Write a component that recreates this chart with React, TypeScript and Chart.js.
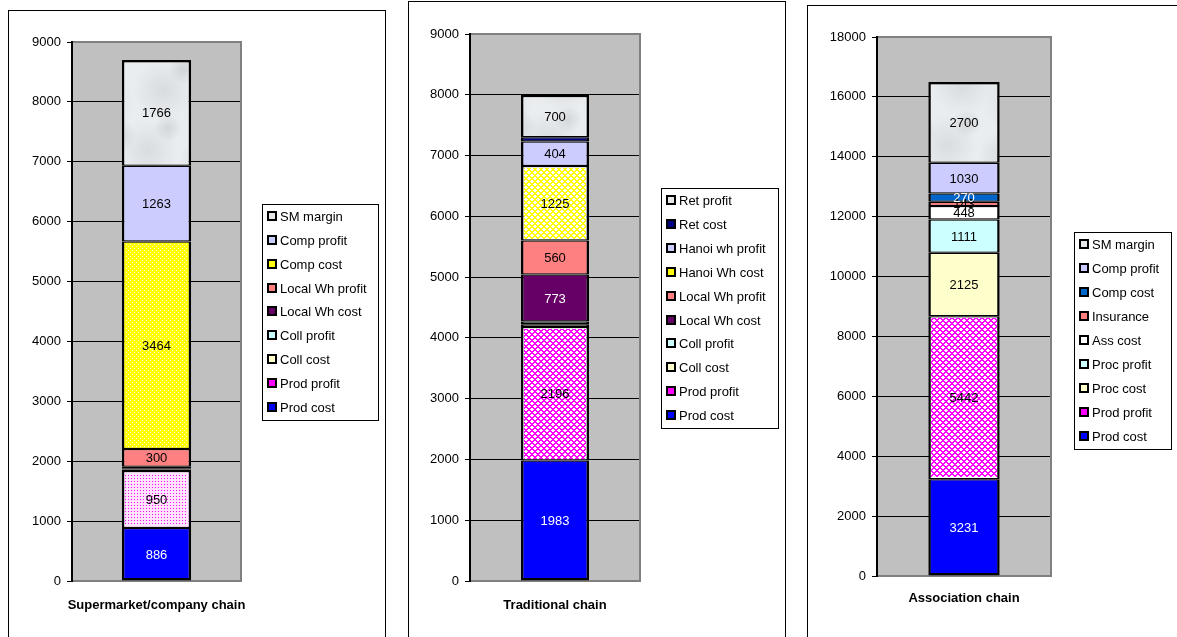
import React, { useEffect, useRef } from 'react';
import { Chart, registerables } from 'chart.js';

Chart.register(...registerables);

const FONT = '"Liberation Sans", Arial, Helvetica, sans-serif';

// ---------- Data: Supermarket/company chain ----------
const superCategory = ['Supermarket/company chain'];
const superSeries = ['Prod cost', 'Prod profit', 'Coll cost', 'Coll profit', 'Local Wh cost', 'Local Wh profit', 'Comp cost', 'Comp profit', 'SM margin'];
const superValues = [886, 950, 25, 15, 30, 300, 3464, 1263, 1766];
const superAxisMax = 9000;
const superAxisStep = 1000;

// ---------- Data: Traditional chain ----------
const tradCategory = ['Traditional chain'];
const tradSeries = ['Prod cost', 'Prod profit', 'Coll cost', 'Coll profit', 'Local Wh cost', 'Local Wh profit', 'Hanoi Wh cost', 'Hanoi wh profit', 'Ret cost', 'Ret profit'];
const tradValues = [1983, 2196, 45, 46, 773, 560, 1225, 404, 68, 700];
const tradAxisMax = 9000;
const tradAxisStep = 1000;

// ---------- Data: Association chain ----------
const assocCategory = ['Association chain'];
const assocSeries = ['Prod cost', 'Prod profit', 'Proc cost', 'Proc profit', 'Ass cost', 'Insurance', 'Comp cost', 'Comp profit', 'SM margin'];
const assocValues = [3231, 5442, 2125, 1111, 448, 143, 270, 1030, 2700];
const assocAxisMax = 18000;
const assocAxisStep = 2000;

// ---------- Styles ----------
const SOLID: Record<string, string> = {
  blue: '#0000FF',
  collCost: '#FFFFCC',
  collProfit: '#CCFFFF',
  purple: '#660066',
  salmon: '#FF8080',
  lavender: '#CCCCFF',
  navy: '#000080',
  white: '#FFFFFF',
  compBlue: '#0066CC',
};
const mod = (a: number, m: number) => ((a % m) + m) % m;
// textured fills: base colour, ink colour, pixel mask
const TEXTURE: Record<string, { base: string; ink: string; mask: (x: number, y: number) => boolean }> = {
  pinkDots: { base: '#FFE4FF', ink: '#FF00FF', mask: (x, y) => x % 3 === 0 && y % 3 === 0 },
  yellowDots: { base: '#FFFF00', ink: '#FFFFC8', mask: (x, y) => (x % 4 === 0 && y % 4 === 0) || (x % 4 === 2 && y % 4 === 2) },
  pinkCross: {
    base: '#FFFFFF',
    ink: '#FF00FF',
    mask: (x, y) => mod(x + y, 6) <= 1 || mod(x - y, 6) <= 1,
  },
  yellowCross: {
    base: '#FFFFFF',
    ink: '#FFFF00',
    mask: (x, y) => mod(x + y, 6) <= 1 || mod(x - y, 6) <= 1,
  },
};
const LEGEND_SWATCH: Record<string, string> = {
  ...SOLID,
  pinkDots: '#FF00FF',
  pinkCross: '#FF00FF',
  yellowDots: '#FFFF00',
  yellowCross: '#FFFF00',
  marble: '#E4E7E9',
};
const WHITE_TEXT = new Set(['blue', 'purple', 'compBlue', 'navy']);

type Panel = {
  category: string[];
  series: string[];
  values: number[];
  max: number;
  step: number;
  fills: string[];
  box: { left: number; top: number; width: number; height: number };
  canvas: { w: number; h: number };
  yWidth: number;
  padTop: number;
  padRight: number;
  xHeight: number;
  xPad: number;
  barPct: number;
  legend: { x: number; y: number; w: number; step: number };
};

const panels: Panel[] = [
  {
    category: superCategory,
    series: superSeries,
    values: superValues,
    max: superAxisMax,
    step: superAxisStep,
    fills: ['blue', 'pinkDots', 'collCost', 'collProfit', 'purple', 'salmon', 'yellowDots', 'lavender', 'marble'],
    box: { left: 8, top: 10, width: 378, height: 700 },
    canvas: { w: 378, h: 627 },
    yWidth: 64,
    padTop: 32,
    padRight: 145,
    xHeight: 56,
    xPad: 17,
    barPct: 0.41,
    legend: { x: 254, y: 194, w: 116, step: 23.85 },
  },
  {
    category: tradCategory,
    series: tradSeries,
    values: tradValues,
    max: tradAxisMax,
    step: tradAxisStep,
    fills: ['blue', 'pinkCross', 'collCost', 'collProfit', 'purple', 'salmon', 'yellowCross', 'lavender', 'navy', 'marble'],
    box: { left: 408, top: 1, width: 378, height: 700 },
    canvas: { w: 377, h: 636 },
    yWidth: 62,
    padTop: 33,
    padRight: 145,
    xHeight: 56,
    xPad: 17,
    barPct: 0.4,
    legend: { x: 253, y: 187, w: 117, step: 23.9 },
  },
  {
    category: assocCategory,
    series: assocSeries,
    values: assocValues,
    max: assocAxisMax,
    step: assocAxisStep,
    fills: ['blue', 'pinkCross', 'collCost', 'collProfit', 'white', 'salmon', 'compBlue', 'lavender', 'marble'],
    box: { left: 807, top: 5, width: 400, height: 700 },
    canvas: { w: 370, h: 632 },
    yWidth: 70,
    padTop: 32,
    padRight: 126,
    xHeight: 61,
    xPad: 15,
    barPct: 0.41,
    legend: { x: 267, y: 227, w: 97, step: 24 },
  },
];

const BORDER_SIDE = 2.5;
const BORDER_JOIN = 1.25;

function makeMarble(ctx: CanvasRenderingContext2D): any {
  const W = 120;
  const H = 160;
  const c = document.createElement('canvas');
  c.width = W;
  c.height = H;
  const g = c.getContext('2d')!;
  g.fillStyle = '#EAEDEF';
  g.fillRect(0, 0, W, H);
  const spots = [
    [15, 20, 28, 0.18], [70, 35, 34, 0.14], [105, 10, 22, 0.16], [35, 80, 30, 0.17],
    [90, 95, 36, 0.14], [20, 140, 30, 0.16], [75, 150, 24, 0.17], [55, 60, 14, 0.22],
    [110, 125, 18, 0.2], [40, 118, 14, 0.22],
  ];
  for (const [x, y, r, a] of spots) {
    for (const dx of [-W, 0, W]) {
      for (const dy of [-H, 0, H]) {
        const gr = g.createRadialGradient(x + dx, y + dy, 0, x + dx, y + dy, r);
        gr.addColorStop(0, `rgba(130,136,142,${a})`);
        gr.addColorStop(1, 'rgba(130,136,142,0)');
        g.fillStyle = gr;
        g.fillRect(x + dx - r, y + dy - r, 2 * r, 2 * r);
      }
    }
  }
  return ctx.createPattern(c, 'repeat');
}

function baseFill(ctx: CanvasRenderingContext2D, key: string): any {
  if (SOLID[key]) return SOLID[key];
  if (TEXTURE[key]) return TEXTURE[key].base;
  if (key === 'marble') return makeMarble(ctx);
  return '#888';
}

function decorPlugin(p: Panel) {
  const n = p.series.length;
  return {
    id: 'decor',
    beforeDraw(chart: any) {
      const { ctx, chartArea: a } = chart;
      ctx.save();
      ctx.fillStyle = '#C0C0C0';
      ctx.fillRect(a.left, a.top, a.right - a.left, a.bottom - a.top);
      ctx.restore();
    },
    beforeDatasetsDraw(chart: any) {
      const { ctx, chartArea: a } = chart;
      ctx.save();
      ctx.strokeStyle = '#808080';
      ctx.lineWidth = 2;
      ctx.beginPath();
      ctx.moveTo(a.left + 1, a.top);
      ctx.lineTo(a.right, a.top);
      ctx.lineTo(a.right, a.bottom);
      ctx.lineTo(a.left + 1, a.bottom);
      ctx.stroke();
      ctx.restore();
    },
    afterDatasetDraw(chart: any, args: any) {
      const i = args.index;
      const tex = TEXTURE[p.fills[i]];
      if (!tex) return;
      const el = chart.getDatasetMeta(i).data[0];
      if (!el) return;
      const bt = i === n - 1 ? BORDER_SIDE : BORDER_JOIN;
      const bb = i === 0 ? BORDER_SIDE : BORDER_JOIN;
      const x0 = Math.ceil(el.x - el.width / 2 + BORDER_SIDE);
      const x1 = Math.floor(el.x + el.width / 2 - BORDER_SIDE);
      const y0 = Math.ceil(el.y + bt);
      const y1 = Math.floor(el.base - bb);
      const { ctx } = chart;
      ctx.save();
      ctx.fillStyle = tex.ink;
      for (let y = y0; y < y1; y++) {
        for (let x = x0; x < x1; x++) {
          if (tex.mask(x, y)) ctx.fillRect(x, y, 1, 1);
        }
      }
      ctx.restore();
    },
    afterDatasetsDraw(chart: any) {
      const { ctx } = chart;
      ctx.save();
      ctx.font = `13px ${FONT}`;
      ctx.textAlign = 'center';
      ctx.textBaseline = 'middle';
      const order = p.values.map((v, i) => i).sort((i, j) => p.values[i] - p.values[j]);
      for (const i of order) {
        const v = p.values[i];
        if (v < 100) continue;
        const el = chart.getDatasetMeta(i).data[0];
        if (!el) continue;
        ctx.fillStyle = WHITE_TEXT.has(p.fills[i]) ? '#FFFFFF' : '#000000';
        ctx.fillText(String(v), el.x, (el.y + el.base) / 2 + 1);
      }
      ctx.restore();
    },
    afterDraw(chart: any) {
      const { ctx } = chart;
      const L = p.legend;
      const h = Math.round(n * L.step + 1);
      ctx.save();
      ctx.fillStyle = '#FFFFFF';
      ctx.fillRect(L.x, L.y, L.w, h);
      ctx.strokeStyle = '#000';
      ctx.lineWidth = 1;
      ctx.strokeRect(L.x + 0.5, L.y + 0.5, L.w, h);
      ctx.font = `13px ${FONT}`;
      ctx.textAlign = 'left';
      ctx.textBaseline = 'middle';
      for (let k = 0; k < n; k++) {
        const i = n - 1 - k;
        const cy = Math.round(L.y + 12 + k * L.step);
        const sx = L.x + 5;
        ctx.fillStyle = '#000';
        ctx.fillRect(sx, cy - 5, 10, 10);
        ctx.fillStyle = LEGEND_SWATCH[p.fills[i]];
        ctx.fillRect(sx + 2, cy - 3, 6, 6);
        ctx.fillStyle = '#000';
        ctx.fillText(p.series[i], L.x + 18, cy + 1);
      }
      ctx.restore();
    },
  };
}

function PanelChart({ p }: { p: Panel }) {
  const ref = useRef<HTMLCanvasElement>(null);
  useEffect(() => {
    const canvas = ref.current!;
    const ctx = canvas.getContext('2d')!;
    const n = p.series.length;
    const datasets = p.series.map((name, i) => ({
      label: name,
      data: [p.values[i]],
      backgroundColor: baseFill(ctx, p.fills[i]),
      borderColor: '#000000',
      borderWidth: {
        left: BORDER_SIDE,
        right: BORDER_SIDE,
        top: i === n - 1 ? BORDER_SIDE : BORDER_JOIN,
        bottom: i === 0 ? BORDER_SIDE : BORDER_JOIN,
      },
      borderSkipped: false,
      barPercentage: p.barPct,
      categoryPercentage: 1,
      stack: 's',
    }));
    const chart = new Chart(canvas, {
      type: 'bar',
      data: { labels: p.category, datasets },
      options: {
        responsive: false,
        animation: false,
        devicePixelRatio: 1,
        layout: { padding: { left: 0, top: p.padTop, right: p.padRight, bottom: 0 } },
        plugins: { legend: { display: false }, tooltip: { enabled: false } },
        scales: {
          x: {
            stacked: true,
            grid: { display: false, drawTicks: false },
            border: { display: false },
            ticks: { color: '#000', font: { family: FONT, size: 13, weight: 'bold' }, padding: p.xPad, maxRotation: 0 },
            afterFit: (s: any) => { s.height = p.xHeight; },
          },
          y: {
            stacked: true,
            min: 0,
            max: p.max,
            grid: { color: '#000', lineWidth: 1, tickLength: 5, drawTicks: true },
            border: { display: true, color: '#000', width: 2 },
            ticks: {
              stepSize: p.step,
              color: '#000',
              font: { family: FONT, size: 13 },
              padding: 6,
              callback: (v: any) => String(v),
            },
            afterFit: (s: any) => { s.width = p.yWidth; },
          },
        },
      } as any,
      plugins: [decorPlugin(p)],
    });
    return () => chart.destroy();
  }, [p]);
  return (
    <>
      <canvas
        ref={ref}
        width={p.canvas.w}
        height={p.canvas.h}
        style={{ position: 'absolute', left: p.box.left, top: p.box.top, width: p.canvas.w, height: p.canvas.h }}
      />
      <div
        style={{
          position: 'absolute',
          left: p.box.left,
          top: p.box.top,
          width: p.box.width,
          height: p.box.height,
          border: '1px solid #000',
          boxSizing: 'border-box',
          pointerEvents: 'none',
        }}
      />
    </>
  );
}

export default function App() {
  return (
    <div style={{ position: 'fixed', left: 0, top: 0, width: 1177, height: 637, overflow: 'hidden', background: '#fff' }}>
      {panels.map((p, i) => (
        <PanelChart key={i} p={p} />
      ))}
    </div>
  );
}
